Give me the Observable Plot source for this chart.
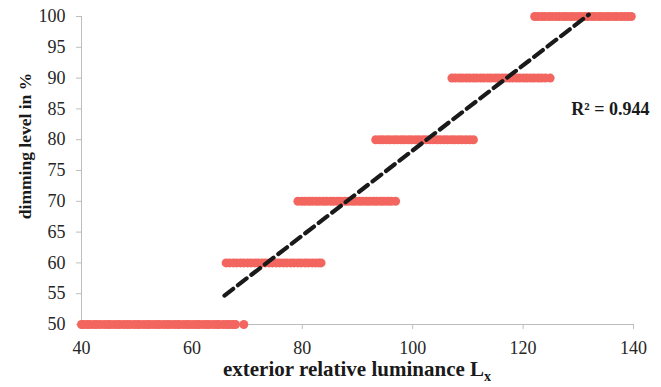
<!DOCTYPE html>
<html>
<head>
<meta charset="utf-8">
<script src="https://cdn.jsdelivr.net/npm/d3@7"></script>
<script src="https://cdn.jsdelivr.net/npm/@observablehq/plot@0.6"></script>
<style>
  body { margin: 0; background: #fff; }
  #chart svg { display: block; }
</style>
</head>
<body>
<div id="chart"></div>
<script>
// Exterior relative luminance readings (L_x) grouped by the dimming step they triggered
const dimLevels = [50, 60, 70, 80, 90, 100];
const lux50 = [40, 40.5, 41.1, 41.6, 42.3, 42.8, 43.4, 44.1, 44.7, 45.2, 45.9, 46.5, 47.0, 47.7, 48.3, 48.8,
  49.5, 50.1, 50.6, 51.3, 51.9, 52.4, 53.1, 53.7, 54.2, 54.9, 55.5, 56.0, 56.7, 57.3, 57.8, 58.5, 59.1, 59.6,
  60.3, 60.9, 61.4, 62.1, 62.7, 63.2, 63.9, 64.5, 65.0, 65.7, 66.3, 66.8, 67.4, 67.9, 69.4];
const lux60 = [66.2, 66.8, 67.5, 68.1, 68.8, 69.4, 70.1, 70.7, 71.4, 72.0, 72.7, 73.3, 74.0, 74.6, 75.3, 75.9,
  76.6, 77.2, 77.9, 78.5, 79.2, 79.8, 80.5, 81.1, 81.8, 82.4, 83.0, 83.4];
const lux70 = [79.2, 79.9, 80.5, 81.2, 81.8, 82.5, 83.1, 83.8, 84.4, 85.1, 85.7, 86.4, 87.0, 87.7, 88.3, 89.0,
  89.6, 90.3, 90.9, 91.6, 92.2, 92.9, 93.5, 94.2, 94.8, 95.5, 96.1, 96.9];
const lux80 = [93.3, 94.0, 94.6, 95.3, 95.9, 96.6, 97.2, 97.9, 98.5, 99.2, 99.8, 100.5, 101.1, 101.8, 102.4,
  103.1, 103.7, 104.4, 105.0, 105.7, 106.3, 107.0, 107.6, 108.3, 108.9, 109.6, 110.3, 111.0];
const lux90 = [107.1, 107.7, 108.4, 109.0, 109.7, 110.3, 111.0, 111.6, 112.3, 112.9, 113.6, 114.2, 114.9,
  115.5, 116.2, 116.8, 117.5, 118.1, 118.8, 119.4, 120.1, 120.7, 121.4, 122.0, 122.7, 123.3, 124.0, 124.9];
const lux100 = [122.1, 122.7, 123.4, 124.0, 124.7, 125.3, 126.0, 126.6, 127.3, 127.9, 128.6, 129.2, 129.9,
  130.5, 131.2, 131.8, 132.5, 133.1, 133.8, 134.4, 135.1, 135.7, 136.4, 137.0, 137.7, 138.3, 139.0, 139.6];

// Linear trend line end points and its fit
const trendLux = [65.9, 131.9];
const trendDim = [54.7, 100.3];
const r2Label = "R² = 0.944";

const xTicks = [40, 60, 80, 100, 120, 140];
const yTicks = [50, 55, 60, 65, 70, 75, 80, 85, 90, 95, 100];
const xTitle = "exterior relative luminance L";
const xTitleSub = "x";
const yTitle = "dimming level in %";

// Tables for the marks
const luxByLevel = [lux50, lux60, lux70, lux80, lux90, lux100];
const readings = dimLevels.flatMap((dim, i) => luxByLevel[i].map(lux => ({lux, dim})));
const trend = trendLux.map((lux, i) => ({lux, dim: trendDim[i]}));

const axisGray = "#bdbdbd";
const pointRed = "#f2665f";
const serif = '"Liberation Serif", "Times New Roman", Times, serif';

const chart = Plot.plot({
  width: 661,
  height: 387,
  marginLeft: 81,
  marginRight: 28,
  marginTop: 16,
  marginBottom: 63,
  style: {fontFamily: serif, fontSize: "18px", color: "#262626", background: "#fff"},
  x: {domain: [40, 140], label: null},
  y: {domain: [50, 100], label: null},
  marks: [
    Plot.ruleY([50], {stroke: axisGray, strokeWidth: 1}),
    Plot.ruleX([40], {stroke: axisGray, strokeWidth: 1}),
    Plot.axisX({ticks: xTicks, tickSize: 5, tickPadding: 12, stroke: axisGray, strokeOpacity: 1, label: null}),
    Plot.axisY({ticks: yTicks, tickSize: 5, tickPadding: 11, stroke: axisGray, strokeOpacity: 1, label: null}),
    Plot.dot(readings, {x: "lux", y: "dim", r: 4.5, fill: pointRed, stroke: "none"}),
    Plot.line(trend, {x: "lux", y: "dim", stroke: "#1a1a1a", strokeWidth: 4.2, strokeDasharray: "11,6"}),
    Plot.text([r2Label], {x: 140, y: 85, text: d => d, textAnchor: "end", dx: 16,
      fontWeight: "bold", fontSize: 18, fill: "#1a1a1a"})
  ]
});

// Axis titles (the x title carries a subscript)
const svg = d3.select(chart);
const xt = svg.append("text")
  .attr("x", 357).attr("y", 376)
  .attr("text-anchor", "middle")
  .attr("font-family", serif).attr("font-size", 21).attr("font-weight", "bold")
  .attr("fill", "#1a1a1a");
xt.append("tspan").text(xTitle);
xt.append("tspan").attr("dy", 5).attr("font-size", 14).text(xTitleSub);

svg.append("text")
  .attr("transform", "translate(31,146) rotate(-90)")
  .attr("text-anchor", "middle")
  .attr("font-family", serif).attr("font-size", 17.5).attr("font-weight", "bold")
  .attr("fill", "#1a1a1a")
  .text(yTitle);

document.getElementById("chart").append(chart);
</script>
</body>
</html>
